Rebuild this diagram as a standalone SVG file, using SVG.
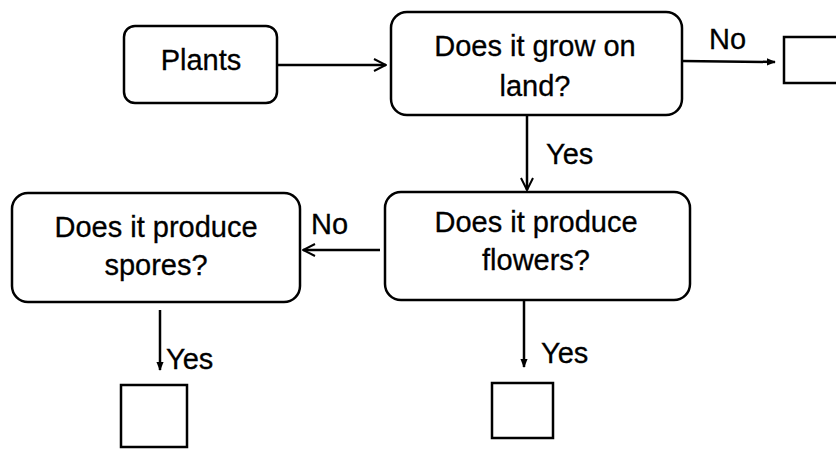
<svg xmlns="http://www.w3.org/2000/svg" width="836" height="449" viewBox="0 0 836 449">
<defs>
<marker id="open" viewBox="0 0 14 14" refX="13" refY="7" markerWidth="14" markerHeight="14" markerUnits="userSpaceOnUse" orient="auto">
<path d="M1,1 L13,7 L1,13" fill="none" stroke="#000" stroke-width="2"/>
</marker>
<marker id="solid" viewBox="0 0 10 10" refX="9" refY="5" markerWidth="9" markerHeight="9" markerUnits="userSpaceOnUse" orient="auto">
<path d="M0,1 L10,5 L0,9 Z" fill="#000"/>
</marker>
</defs>
<style>
.box{fill:#fff;stroke:#000;stroke-width:2.5}
.t{font-family:"Liberation Sans",Arial,sans-serif;font-size:29px;fill:#000;stroke:#000;stroke-width:0.3;text-anchor:middle}
.l{font-family:"Liberation Sans",Arial,sans-serif;font-size:29px;fill:#000;stroke:#000;stroke-width:0.3}
.c{fill:none;stroke:#000;stroke-width:2.5}
</style>
<rect width="836" height="449" fill="#fff"/>
<g id="connectors">
<line class="c" x1="277" y1="65" x2="386" y2="65" marker-end="url(#open)"/>
<line class="c" x1="682" y1="61" x2="775" y2="62" marker-end="url(#solid)"/>
<text class="l" x="709" y="49">No</text>
<line class="c" x1="527" y1="115" x2="527" y2="190" marker-end="url(#open)"/>
<text class="l" x="546" y="164">Yes</text>
<line class="c" x1="380" y1="250" x2="303" y2="250" marker-end="url(#open)"/>
<text class="l" x="311" y="234">No</text>
<line class="c" x1="524" y1="300" x2="524" y2="367" stroke-width="3" marker-end="url(#solid)"/>
<text class="l" x="541" y="363">Yes</text>
<line class="c" x1="160" y1="310" x2="160" y2="370" marker-end="url(#solid)"/>
<text class="l" x="166" y="369">Yes</text>
</g>
<g id="plants">
<rect class="box" x="124" y="26" width="153" height="77" rx="11"/>
<text class="t" x="201" y="70">Plants</text>
</g>
<g id="land">
<rect class="box" x="391" y="12" width="291" height="103" rx="16"/>
<text class="t" x="535" y="56">Does it grow on</text>
<text class="t" x="535" y="96">land?</text>
</g>
<g id="water-box">
<rect class="box" x="784" y="37" width="70" height="46"/>
</g>
<g id="flowers">
<rect class="box" x="385" y="192" width="305" height="108" rx="16"/>
<text class="t" x="536" y="232">Does it produce</text>
<text class="t" x="536" y="270">flowers?</text>
</g>
<g id="spores">
<rect class="box" x="12" y="193" width="288" height="109" rx="16"/>
<text class="t" x="156" y="237">Does it produce</text>
<text class="t" x="156" y="275">spores?</text>
</g>
<g id="flower-box">
<rect class="box" x="492" y="383" width="61" height="55"/>
</g>
<g id="spore-box">
<rect class="box" x="121" y="385" width="66" height="62"/>
</g>
</svg>
